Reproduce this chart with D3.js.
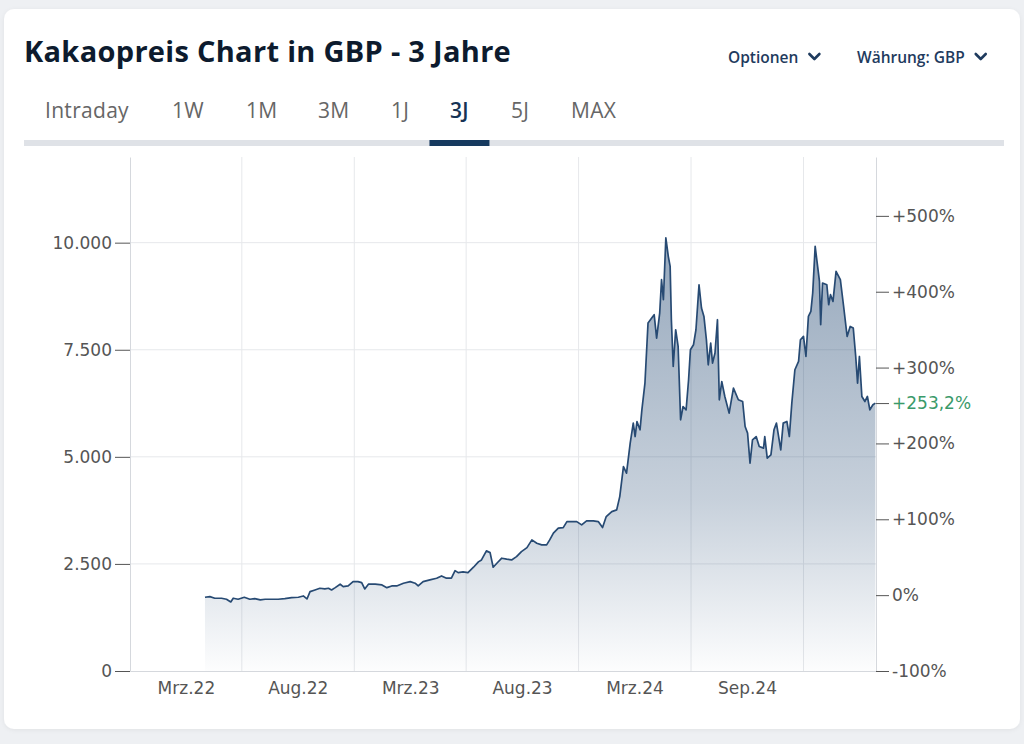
<!DOCTYPE html>
<html lang="de">
<head>
<meta charset="utf-8">
<title>Kakaopreis Chart in GBP - 3 Jahre</title>
<script src="https://cdn.jsdelivr.net/npm/d3@7"></script>
<style>
  body { margin: 0; background: #eef0f3; }
  svg { display: block; }
  .axis text { font-family: "DejaVu Sans", Verdana, sans-serif; font-size: 17px; fill: #555; }
  .axis .domain { stroke: #d5d8dd; }
  .axis .tick line { stroke: #555; }
</style>
</head>
<body>
<svg id="chart"></svg>
<script>
// Kakaopreis in GBP
const priceDates = [
  "2022-02-14", "2022-02-22", "2022-03-02", "2022-03-13", "2022-03-21", "2022-03-28",
  "2022-04-01", "2022-04-09", "2022-04-19", "2022-04-28", "2022-05-06", "2022-05-15",
  "2022-05-23", "2022-06-03", "2022-06-13", "2022-06-24", "2022-07-05", "2022-07-16",
  "2022-07-24", "2022-07-30", "2022-08-04", "2022-08-12", "2022-08-20", "2022-08-28",
  "2022-09-03", "2022-09-08", "2022-09-14", "2022-09-22", "2022-09-27", "2022-10-05",
  "2022-10-13", "2022-10-21", "2022-10-27", "2022-11-01", "2022-11-07", "2022-11-18",
  "2022-11-29", "2022-12-07", "2022-12-15", "2022-12-23", "2023-01-03", "2023-01-14",
  "2023-01-22", "2023-01-27", "2023-02-04", "2023-02-15", "2023-02-26", "2023-03-06",
  "2023-03-14", "2023-03-22", "2023-03-28", "2023-04-02", "2023-04-10", "2023-04-18",
  "2023-04-27", "2023-05-05", "2023-05-10", "2023-05-18", "2023-05-24", "2023-05-29",
  "2023-06-04", "2023-06-12", "2023-06-20", "2023-06-28", "2023-07-06", "2023-07-14",
  "2023-07-23", "2023-07-31", "2023-08-08", "2023-08-16", "2023-08-24", "2023-08-29",
  "2023-09-04", "2023-09-12", "2023-09-20", "2023-09-26", "2023-10-04", "2023-10-12",
  "2023-10-20", "2023-10-28", "2023-11-08", "2023-11-16", "2023-11-23", "2023-11-29",
  "2023-12-08", "2023-12-16", "2023-12-21", "2023-12-27", "2024-01-01", "2024-01-07",
  "2024-01-12", "2024-01-15", "2024-01-18", "2024-01-23", "2024-01-26", "2024-01-31",
  "2024-02-05", "2024-02-11", "2024-02-15", "2024-02-19", "2024-02-24", "2024-02-27",
  "2024-03-01", "2024-03-05", "2024-03-09", "2024-03-12", "2024-03-14", "2024-03-17",
  "2024-03-21", "2024-03-25", "2024-03-29", "2024-04-02", "2024-04-07", "2024-04-11",
  "2024-04-14", "2024-04-19", "2024-04-23", "2024-04-28", "2024-05-02", "2024-05-06",
  "2024-05-10", "2024-05-13", "2024-05-17", "2024-05-20", "2024-05-24", "2024-05-28",
  "2024-05-31", "2024-06-04", "2024-06-09", "2024-06-16", "2024-06-23", "2024-07-01",
  "2024-07-08", "2024-07-12", "2024-07-16", "2024-07-20", "2024-07-24", "2024-07-30",
  "2024-08-04", "2024-08-11", "2024-08-13", "2024-08-17", "2024-08-23", "2024-08-28",
  "2024-09-01", "2024-09-08", "2024-09-12", "2024-09-18", "2024-09-22", "2024-09-26",
  "2024-10-01", "2024-10-07", "2024-10-10", "2024-10-15", "2024-10-19", "2024-10-23",
  "2024-10-27", "2024-10-30", "2024-11-03", "2024-11-07", "2024-11-10", "2024-11-12",
  "2024-11-15", "2024-11-22", "2024-11-25", "2024-11-28", "2024-12-02", "2024-12-07",
  "2024-12-14", "2024-12-19", "2024-12-25", "2024-12-30", "2025-01-04", "2025-01-08",
  "2025-01-11", "2025-01-14", "2025-01-18", "2025-01-23", "2025-01-27", "2025-01-31",
  "2025-02-05", "2025-02-09"
];
const prices = [
  1722, 1736, 1699, 1699, 1675, 1612,
  1699, 1675, 1722, 1675, 1689, 1659,
  1675, 1675, 1675, 1689, 1713, 1722,
  1752, 1682, 1853, 1892, 1932, 1916,
  1932, 1892, 1946, 2026, 1970, 1986,
  2086, 2086, 2063, 1916, 2026, 2026,
  2009, 1946, 1986, 1986, 2049, 2086,
  2049, 1986, 2086, 2126, 2166, 2220,
  2166, 2166, 2343, 2297, 2313, 2297,
  2423, 2547, 2593, 2804, 2764, 2423,
  2516, 2633, 2610, 2593, 2670, 2787,
  2881, 3061, 2984, 2944, 2944, 3061,
  3217, 3334, 3348, 3488, 3488, 3488,
  3411, 3505, 3505, 3488, 3348, 3605,
  3722, 3762, 4072, 4773, 4619, 5320,
  5787, 5474, 5825, 5631, 6098, 6722,
  8124, 8240, 8318, 7773, 8357, 9135,
  8668, 10110, 9680, 9446, 8201, 7110,
  7967, 7577, 5864, 6175, 6098, 6799,
  7500, 7617, 7967, 9018, 8474, 8278,
  7733, 7149, 7656, 7189, 7423, 8201,
  6332, 6759, 6409, 6021, 6605, 6332,
  6292, 5708, 5554, 4853, 5397, 5474,
  5241, 5203, 5474, 4970, 5047, 5631,
  5787, 5163, 5787, 5825, 5474, 6255,
  7033, 7227, 7733, 7811, 7343, 8278,
  8395, 8825, 9913, 9446, 9096, 8084,
  9058, 9018, 8551, 8785, 8628, 9329,
  9135, 8551, 7811, 8044, 8007, 7343,
  6722, 7343, 6409, 6292, 6409, 6098,
  6215, 6255
];
const changePct = 253.2;

const priceTicks = [0, 2500, 5000, 7500, 10000];
const pctTicks = [-100, 0, 100, 200, 300, 400, 500];
const xStart = "2021-10-15";
const xEnd = "2025-02-10";
const gridDates = ["2022-04-15", "2022-10-15", "2023-04-15", "2023-10-15", "2024-04-15", "2024-10-15"];
const labelDates = ["2022-01-14", "2022-07-15", "2023-01-14", "2023-07-15", "2024-01-14", "2024-07-15"];
const monthLabels = ["Mrz.22", "Aug.22", "Mrz.23", "Aug.23", "Mrz.24", "Sep.24"];

const rangeTabs = ["Intraday", "1W", "1M", "3M", "1J", "3J", "5J", "MAX"];
const activeTab = "3J";
const menuItems = ["Optionen", "Währung: GBP"];

const width = 1024, height = 744;
const margin = { top: 157, right: 148, bottom: 73, left: 130 };
const parse = d3.timeParse("%Y-%m-%d");
const data = priceDates.map((d, i) => ({ date: parse(d), price: prices[i] }));

const de = d3.formatLocale({ decimal: ",", thousands: ".", grouping: [3], currency: ["", " £"], minus: "-" });

const svg = d3.select("#chart").attr("width", width).attr("height", height);

const defs = svg.append("defs");
const shadow = defs.append("filter").attr("id", "shadow")
  .attr("x", "-5%").attr("y", "-5%").attr("width", "110%").attr("height", "110%");
shadow.append("feDropShadow").attr("dx", 0).attr("dy", 1).attr("stdDeviation", 2)
  .attr("flood-color", "#000").attr("flood-opacity", 0.06);

// card
svg.append("rect").attr("width", width).attr("height", height).attr("fill", "#eef0f3");
svg.append("rect")
  .attr("x", 4).attr("y", 9).attr("width", 1016).attr("height", 720).attr("rx", 10)
  .attr("fill", "#fff").attr("filter", "url(#shadow)");

// header
svg.append("text")
  .attr("x", 24).attr("y", 62)
  .style("font-family", "'Open Sans', sans-serif").style("font-weight", 700)
  .style("font-size", "29px").style("letter-spacing", "0.3px").attr("fill", "#0d1b2e")
  .text("Kakaopreis Chart in GBP - 3 Jahre");

const menuX = [728, 857];
menuItems.forEach((m, i) => {
  const t = svg.append("text")
    .attr("x", menuX[i]).attr("y", 63)
    .style("font-family", "'Open Sans', sans-serif").style("font-weight", 600)
    .style("font-size", "15.5px").attr("fill", "#1f3b5e")
    .text(m);
  const cx = menuX[i] + t.node().getComputedTextLength() + 16;
  svg.append("path")
    .attr("d", `M${cx - 5},${54} L${cx},${59} L${cx + 5},${54}`)
    .attr("fill", "none").attr("stroke", "#1f3b5e").attr("stroke-width", 2.6)
    .attr("stroke-linecap", "round").attr("stroke-linejoin", "round");
});

// range tabs
const tabX = [45, 172, 246, 318, 391, 450, 511, 571];
svg.append("rect").attr("x", 24).attr("y", 140).attr("width", 980).attr("height", 6).attr("fill", "#dfe2e7");
rangeTabs.forEach((tab, i) => {
  const active = tab === activeTab;
  const t = svg.append("text")
    .attr("x", tabX[i]).attr("y", 118)
    .style("font-family", "'Open Sans', sans-serif").style("font-weight", active ? 600 : 400)
    .style("font-size", "21px").style("letter-spacing", "0.3px").attr("fill", active ? "#163354" : "#666")
    .text(tab);
  const w = t.node().getComputedTextLength();
  if (active) {
    svg.append("rect").attr("x", tabX[i] + w / 2 - 30).attr("y", 140).attr("width", 60).attr("height", 6).attr("fill", "#163a5f");
  }
});

// scales
const x = d3.scaleTime()
  .domain([parse(xStart), parse(xEnd)])
  .range([margin.left, width - margin.right]);
const y = d3.scaleLinear()
  .domain([0, 12000])
  .range([height - margin.bottom, margin.top]);

const basePrice = prices[prices.length - 1] / (1 + changePct / 100);
const yPct = d3.scaleLinear()
  .domain([-100, (12000 / basePrice - 1) * 100])
  .range(y.range());

const chart = svg.append("g");

// gridlines
chart.append("g").selectAll("line")
  .data(gridDates.map(parse))
  .join("line")
  .attr("x1", d => x(d)).attr("x2", d => x(d))
  .attr("y1", y(0)).attr("y2", y(12000))
  .attr("stroke", "#e6e8eb");
chart.append("g").selectAll("line")
  .data(priceTicks.slice(1))
  .join("line")
  .attr("x1", x.range()[0]).attr("x2", x.range()[1])
  .attr("y1", d => y(d)).attr("y2", d => y(d))
  .attr("stroke", "#e6e8eb");

// area + line
const grad = defs.append("linearGradient").attr("id", "fill")
  .attr("gradientUnits", "userSpaceOnUse")
  .attr("x1", 0).attr("x2", 0).attr("y1", y(10000)).attr("y2", y(0));
grad.append("stop").attr("offset", "0%").attr("stop-color", "#1f4570").attr("stop-opacity", 0.46);
grad.append("stop").attr("offset", "60%").attr("stop-color", "#1f4570").attr("stop-opacity", 0.25);
grad.append("stop").attr("offset", "100%").attr("stop-color", "#1f4570").attr("stop-opacity", 0.01);

chart.append("path")
  .datum(data)
  .attr("fill", "url(#fill)")
  .attr("d", d3.area().x(d => x(d.date)).y0(y(0)).y1(d => y(d.price)));

chart.append("path")
  .datum(data)
  .attr("fill", "none")
  .attr("stroke", "#274a73")
  .attr("stroke-width", 1.7)
  .attr("stroke-linejoin", "round")
  .attr("d", d3.line().x(d => x(d.date)).y(d => y(d.price)));

// axes
chart.append("g")
  .attr("class", "axis")
  .attr("transform", `translate(${x.range()[0]},0)`)
  .call(d3.axisLeft(y).tickValues(priceTicks).tickFormat(de.format(",")).tickSize(15).tickSizeOuter(0).tickPadding(3));

chart.append("g")
  .attr("class", "axis")
  .attr("transform", `translate(0,${y(0)})`)
  .call(d3.axisBottom(x).tickValues(labelDates.map(parse)).tickFormat((d, i) => monthLabels[i]).tickSize(0).tickPadding(11));

const pctFormat = p => p === 0 ? "0%" : de.format("+")(p) + "%";
chart.append("g")
  .attr("class", "axis")
  .attr("transform", `translate(${x.range()[1]},0)`)
  .call(d3.axisRight(yPct).tickValues(pctTicks).tickFormat(pctFormat).tickSize(13).tickSizeOuter(0).tickPadding(3));

const last = chart.append("g")
  .attr("class", "axis")
  .attr("transform", `translate(${x.range()[1]},0)`)
  .call(d3.axisRight(yPct).tickValues([changePct]).tickFormat(p => de.format("+.1f")(p) + "%").tickSize(13).tickSizeOuter(0).tickPadding(3));
last.select(".domain").remove();
last.selectAll("text").style("fill", "#3a9a6a");
</script>
</body>
</html>
